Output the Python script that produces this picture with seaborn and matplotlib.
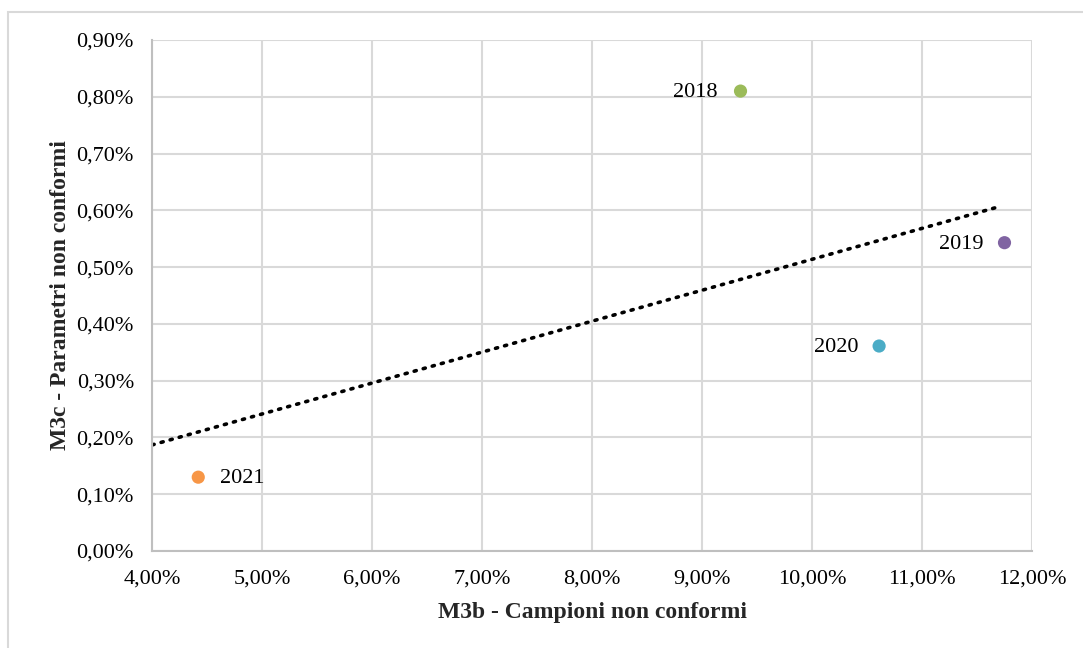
import numpy as np
import pandas as pd
import matplotlib
matplotlib.use('Agg')
import matplotlib.pyplot as plt
import seaborn as sns
from matplotlib.ticker import FuncFormatter

# data
anni = ['2018', '2019', '2020', '2021']
campioni = [9.35, 11.75, 10.61, 4.42]      # M3b, %
parametri = [0.810, 0.543, 0.361, 0.130]   # M3c, %
colori = ['#9BBB59', '#8064A2', '#4BACC6', '#F79646']

df = pd.DataFrame({'anno': anni, 'x': campioni, 'y': parametri})

sns.set_style('white')
plt.rcParams['font.family'] = ['Liberation Serif', 'DejaVu Serif']

fig = plt.figure(figsize=(10.83, 6.48), dpi=100)
ax = fig.add_axes([0.1404, 0.1497, 0.8125, 0.7886])

# outer chart border (only left/top visible)
fig.patches.append(plt.Rectangle((8 / 1083, -0.1), 1.2, 1.1 - 12 / 648,
                                 transform=fig.transFigure, fill=False,
                                 edgecolor='#D9D9D9', linewidth=1.5))

ax.grid(True, color='#D9D9D9', linewidth=1.5)
ax.set_axisbelow(True)

# linear trendline (dotted)
k, q = np.polyfit(df['x'], df['y'], 1)
xt = np.array([4.0, max(campioni) - 0.05])
ax.plot(xt, k * xt + q, linestyle=(0, (0.6, 2.0)), color='black', linewidth=2.6,
        dash_capstyle='round', zorder=2)

sns.scatterplot(data=df, x='x', y='y', hue='anno', palette=colori, s=90,
                edgecolor='none', legend=False, ax=ax, zorder=3)

# year labels
offs = {'2018': (-0.21, 'right'), '2019': (-0.19, 'right'),
        '2020': (-0.19, 'right'), '2021': (0.2, 'left')}
for a, xv, yv in zip(anni, campioni, parametri):
    dx, ha = offs[a]
    ax.text(xv + dx, yv - 0.003, a, ha=ha, va='center', fontsize=16,
            color='black')

ax.set_xlim(4, 12)
ax.set_ylim(0, 0.9)
ax.set_xticks(np.arange(4, 12.1, 1))
ax.set_yticks(np.arange(0, 0.91, 0.1))
ax.xaxis.set_major_formatter(FuncFormatter(lambda v, p: f'{v:.2f}%'.replace('.', ',')))
ax.yaxis.set_major_formatter(FuncFormatter(lambda v, p: f'{v:.2f}%'.replace('.', ',')))
ax.tick_params(axis='both', labelsize=16, length=0, colors='black', pad=13)
ax.tick_params(axis='y', pad=13)

for s in ['top', 'right']:
    ax.spines[s].set_visible(False)
for s in ['left', 'bottom']:
    ax.spines[s].set_color('#BFBFBF')
    ax.spines[s].set_linewidth(1.5)

ax.set_xlabel('M3b - Campioni non conformi', fontsize=17, fontweight='bold',
              labelpad=10)
ax.set_ylabel('M3c - Parametri non conformi', fontsize=17, fontweight='bold',
              labelpad=4)

fig.savefig('out.png', dpi=100)
